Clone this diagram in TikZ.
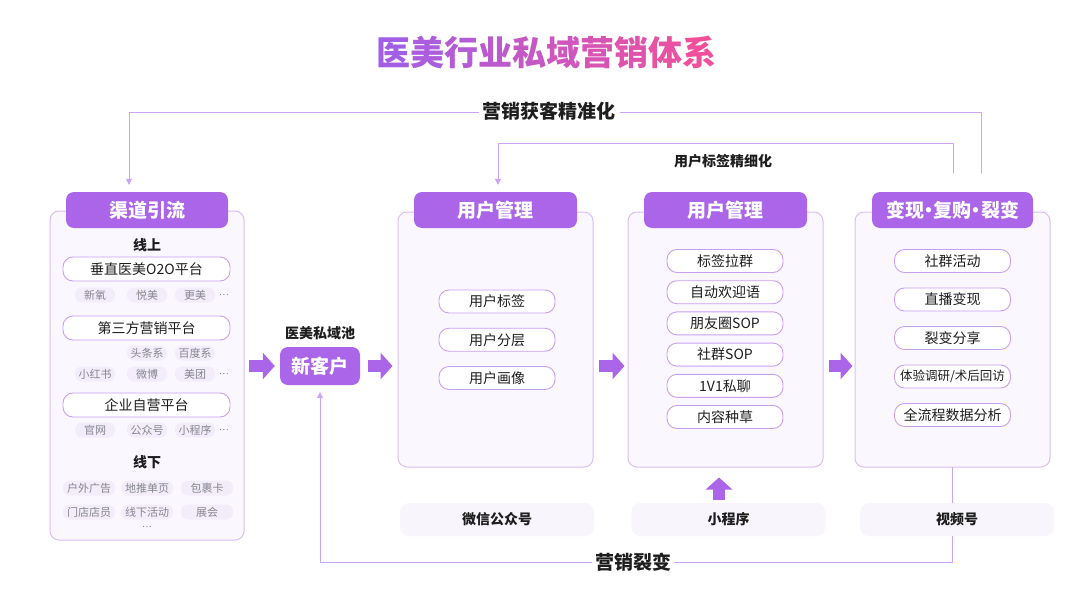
\documentclass[tikz,border=0pt]{standalone}
\usepackage{fontspec}
\setmainfont{Noto Sans CJK SC}
\usetikzlibrary{arrows.meta}
\definecolor{hdrP}{HTML}{AB65E8}
\definecolor{linkP}{HTML}{CDA3F4}
\definecolor{panB}{HTML}{D9BFF4}
\definecolor{panF}{HTML}{FAF7FE}
\definecolor{pillB}{HTML}{C9A0F0}
\definecolor{tagF}{HTML}{F3EDFB}
\definecolor{tagT}{HTML}{85858F}
\definecolor{chanF}{HTML}{F8F5FD}
\definecolor{txtD}{HTML}{1E1E1E}
\definecolor{ttA}{HTML}{A25FE6}
\definecolor{ttB}{HTML}{F24F9B}
\newcommand\middot{\kern-0.25em·\kern-0.25em}
\begin{document}
\begin{tikzpicture}[x=1pt,y=-1pt,line join=round,line cap=round,
	panel/.style={draw=panB,fill=panF,line width=1pt,rounded corners=9pt},
	hdr/.style={fill=hdrP,rounded corners=8pt,text=white,inner sep=0pt,minimum height=36pt,font=\fontsize{19}{20}\selectfont\bfseries},
	item/.style={draw=pillB,fill=white,line width=0.9pt,rounded corners=10pt,inner sep=0pt,minimum width=116pt,minimum height=23pt,text=txtD,font=\fontsize{14}{15}\selectfont},
	plat/.style={item,minimum width=167pt,minimum height=24pt},
	tag/.style={fill=tagF,text=tagT,rounded corners=7pt,inner sep=0pt,minimum width=40pt,minimum height=15pt,font=\fontsize{11}{12}\selectfont},
	dots/.style={text=tagT,inner sep=0pt,font=\fontsize{9}{10}\selectfont},
	chan/.style={fill=chanF,rounded corners=9pt,inner sep=0pt,minimum width=194pt,minimum height=33pt,text=txtD,font=\fontsize{14}{15}\selectfont\bfseries},
	lbl/.style={text=txtD,inner sep=0pt,font=\fontsize{14}{15}\selectfont\bfseries},
	lblbig/.style={text=txtD,fill=white,inner sep=4pt,font=\fontsize{19}{20}\selectfont\bfseries},
	link/.style={draw=linkP,line width=1pt,-{Triangle[length=6pt,width=6pt]}},
	fat/.style={draw=hdrP,line width=12pt,line cap=butt,-{Triangle[length=12pt,width=26pt]}}]
	\fill[white] (0,0) rectangle (1080,608);
	\useasboundingbox (0,0) rectangle (1080,608);
	%Tiêu đề
	\node[inner sep=0pt,font=\fontsize{34}{36}\selectfont\bfseries] (title) at (546.5,52)
	{\textcolor{ttB!0!ttA}{医}\textcolor{ttB!11!ttA}{美}\textcolor{ttB!22!ttA}{行}\textcolor{ttB!33!ttA}{业}\textcolor{ttB!44!ttA}{私}\textcolor{ttB!56!ttA}{域}\textcolor{ttB!67!ttA}{营}\textcolor{ttB!78!ttA}{销}\textcolor{ttB!89!ttA}{体}\textcolor{ttB!100!ttA}{系}};
	%Các khung
	\node[panel,minimum width=194pt,minimum height=329pt] (p1) at (147,375.5) {};
	\node[panel,minimum width=195pt,minimum height=255pt] (p2) at (495.5,339.5) {};
	\node[panel,minimum width=195pt,minimum height=255pt] (p3) at (725.5,339.5) {};
	\node[panel,minimum width=195pt,minimum height=255pt] (p4) at (952.5,339.5) {};
	\node[hdr,minimum width=162pt] (h1) at (147,210) {渠道引流};
	\node[hdr,minimum width=163pt] (h2) at (495.5,210) {用户管理};
	\node[hdr,minimum width=163pt] (h3) at (725.5,210) {用户管理};
	\node[hdr,minimum width=161pt] (h4) at (952.5,210) {变现\middot 复购\middot 裂变};
	%Khung trái: kênh
	\node[lbl] (online) at (147,245) {线上};
	\node[plat] (pa) at (146.5,269) {垂直医美O2O平台};
	\node[plat] (pb) at (146.5,328) {第三方营销平台};
	\node[plat] (pc) at (146.5,405) {企业自营平台};
	\foreach \t/\x in {新氧/95,悦美/147,更美/195} \node[tag] (ta\x) at (\x,295) {\t};
	\foreach \t/\x in {头条系/147,百度系/195} \node[tag] (tb\x) at (\x,353) {\t};
	\foreach \t/\x in {小红书/95,微博/147,美团/195} \node[tag] (tc\x) at (\x,374) {\t};
	\foreach \t/\x in {官网/95,公众号/147,小程序/195} \node[tag] (td\x) at (\x,430) {\t};
	\foreach \y in {295,374,430} \node[dots] (dt\y) at (224,\y) {…};
	\node[lbl] (offline) at (147,462) {线下};
	\foreach \t/\x in {户外广告/89,地推单页/147,包裹卡/207} \node[tag,minimum width=52pt] (te\x) at (\x,488) {\t};
	\foreach \t/\x in {门店店员/89,线下活动/147,展会/207} \node[tag,minimum width=52pt] (tf\x) at (\x,512) {\t};
	\node[dots] (dtend) at (147,527) {…};
	%Khách mới
	\node[lbl] (pool) at (320,333) {医美私域池};
	\node[hdr,minimum width=80pt,minimum height=38pt] (nc) at (320,366) {新客户};
	%Các mục
	\foreach \t [count=\i] in {用户标签,用户分层,用户画像}
		\node[item] (m\i) at (497,{301.5+38.25*(\i-1)}) {\t};
	\foreach \t [count=\i] in {标签拉群,自动欢迎语,朋友圈SOP,社群SOP,1V1私聊,内容种草}
		\node[item] (u\i) at (725,{261+31.2*(\i-1)}) {\t};
	\foreach \t [count=\i] in {社群活动,直播变现,裂变分享,{\fontsize{12.5}{14}\selectfont 体验调研/术后回访},全流程数据分析}
		\node[item] (v\i) at (952.5,{261+38.5*(\i-1)}) {\t};
	%Mũi tên lớn
	\draw[fat,shorten <=4pt,shorten >=5pt] (p1.east |- nc) -- (nc.west);
	\draw[fat,shorten <=8pt,shorten >=5pt] (nc.east) -- (p2.west |- nc);
	\draw[fat,shorten <=5pt,shorten >=3pt] (p2.east |- nc) -- (p3.west |- nc);
	\draw[fat,shorten <=5pt,shorten >=2pt] (p3.east |- nc) -- (p4.west |- nc);
	%Vòng phản hồi
	\coordinate (outA) at (981,173);
	\coordinate (inA) at (953,173);
	\coordinate (topY) at (0,112);
	\coordinate (midY) at (0,143);
	\coordinate (botY) at (0,562);
	\draw[link,shorten >=7pt] (outA) -- (outA |- topY) -| ([xshift=-18pt]h1.north);
	\draw[link,shorten >=7pt] (inA) -- (inA |- midY) -| ([xshift=2.5pt]h2.north);
	\draw[link,shorten >=7pt] (p4.south) -- (p4.south |- botY) -| (nc.south);
	\node[lblbig] (gain) at (549,111) {营销获客精准化};
	\node[lbl] (refine) at (723,161) {用户标签精细化};
	\node[lblbig,inner sep=3pt] (fission) at (633,562) {营销裂变};
	%Kênh dưới
	\node[chan] (wx) at (497,519.5) {微信公众号};
	\node[chan] (mini) at (728.5,519.5) {小程序};
	\node[chan] (vid) at (957,519.5) {视频号};
	\draw[fat,shorten <=3pt,shorten >=10pt] ([xshift=-9.5pt]mini.north) -- ([xshift=-9.5pt]mini.north |- p3.south);
\end{tikzpicture}
\end{document}
